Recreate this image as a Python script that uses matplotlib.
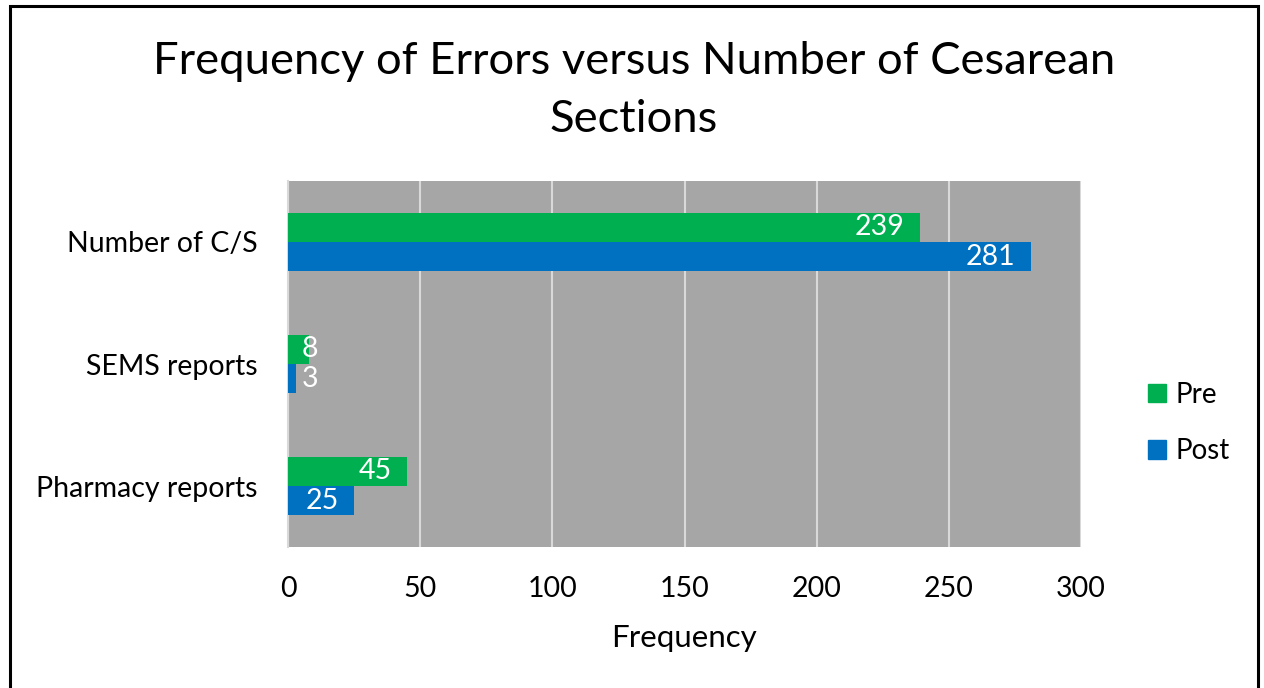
import matplotlib
matplotlib.use('Agg')
import matplotlib.pyplot as plt
import matplotlib.patches as patches
import numpy as np

plt.rcParams['font.family'] = ['Lato', 'DejaVu Sans']

categories = ['Pharmacy reports', 'SEMS reports', 'Number of C/S']
pre = [45, 8, 239]
post = [25, 3, 281]
xticks = [0, 50, 100, 150, 200, 250, 300]

green = '#00B050'
blue = '#0070C0'

fig = plt.figure(figsize=(12.64, 6.88), dpi=100)
ax = fig.add_axes([288/1264, 1-547/688, (1081-288)/1264, (547-181)/688])
ax.set_facecolor('#A6A6A6')

y = np.arange(len(categories))
h = 0.238
bars_pre = ax.barh(y + h/2, pre, height=h, color=green, zorder=3)
bars_post = ax.barh(y - h/2, post, height=h, color=blue, zorder=3)

# value labels, inside end; short bars get label just off the axis
for bars, vals in ((bars_pre, pre), (bars_post, post)):
    for b, v in zip(bars, vals):
        cy = b.get_y() + b.get_height()/2
        if v < 20:
            ax.annotate(str(v), (0, cy), xytext=(10, 0), textcoords='offset points',
                        ha='left', va='center', color='white', fontsize=20.5, zorder=4)
        else:
            ax.annotate(str(v), (v, cy), xytext=(-11, 0), textcoords='offset points',
                        ha='right', va='center', color='white', fontsize=20.5, zorder=4)

ax.set_xlim(0, 300)
ax.set_ylim(-0.5, 2.5)
ax.set_xticks(xticks)
ax.set_yticks(y)
ax.set_yticklabels(categories)
ax.xaxis.grid(True, color='#D9D9D9', linewidth=1.5, zorder=1)
ax.tick_params(axis='both', length=0, labelsize=20.5)
ax.tick_params(axis='x', pad=21)
ax.tick_params(axis='y', pad=22)
for s in ['top', 'right', 'bottom']:
    ax.spines[s].set_visible(False)
ax.spines['left'].set_color('#D9D9D9')
ax.spines['left'].set_linewidth(1.5)
ax.set_xlabel('Frequency', fontsize=22.5, labelpad=16)

fig.text(634/1264, 1-62/688, 'Frequency of Errors versus Number of Cesarean',
         ha='center', va='center', fontsize=32.7)
fig.text(634/1264, 1-120/688, 'Sections', ha='center', va='center', fontsize=32.7)

handles = [patches.Patch(color=green), patches.Patch(color=blue)]
fig.legend(handles, ['Pre', 'Post'], loc='center left',
           bbox_to_anchor=(1123/1264, 1-423/688), frameon=False, fontsize=20,
           handlelength=0.65, handleheight=0.65, handletextpad=0.35, labelspacing=1.1)

border = patches.Rectangle((10/1264, -0.1), (1258-10)/1264, 1.1-6/688,
                           transform=fig.transFigure, fill=False,
                           edgecolor='black', linewidth=2.2)
fig.patches.append(border)

fig.savefig('out.png', dpi=100)
